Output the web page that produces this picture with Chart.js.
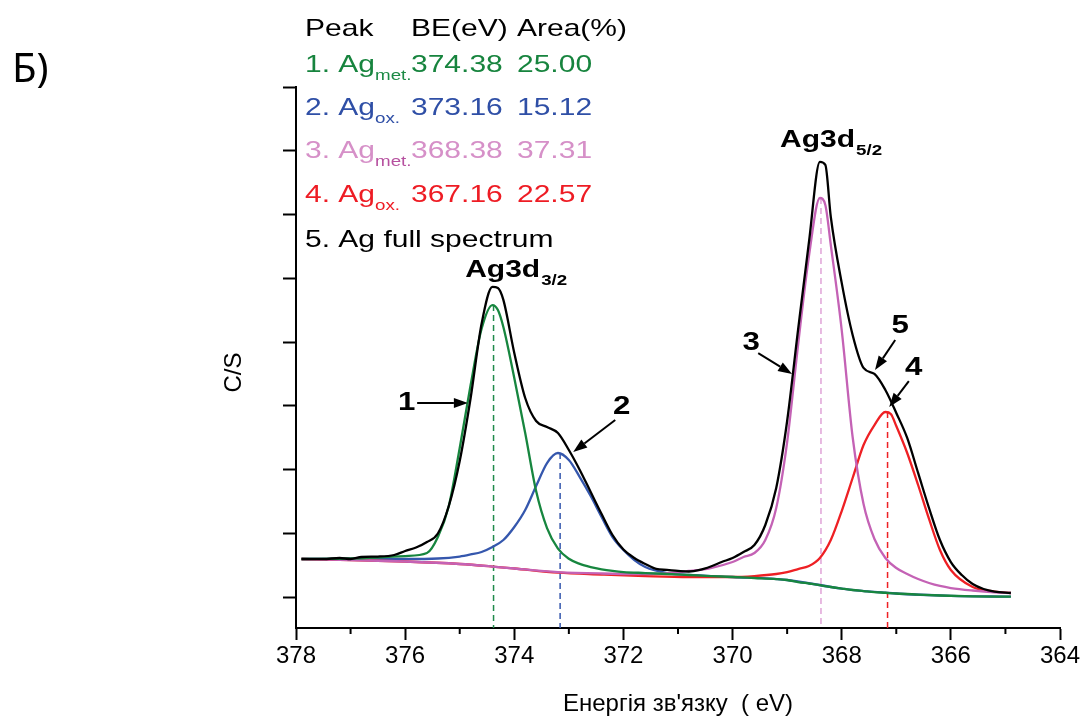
<!DOCTYPE html>
<html lang="uk">
<head>
  <meta charset="UTF-8">
  <title>Ag3d XPS spectrum</title>
  <script src="https://cdn.jsdelivr.net/npm/chart.js"></script>
  <style>
    html, body { margin: 0; padding: 0; background: #fff; }
    canvas { display: block; }
  </style>
</head>
<body>
  <canvas id="xpsChart" width="1083" height="721"></canvas>

  <script>
    // --- Fit results (table at the top of the plot) ---
    const peakLabels = ['1. Ag', '2. Ag', '3. Ag', '4. Ag'];
    const peakStates = ['met.', 'ox.', 'met.', 'ox.'];
    const peakBE = [374.38, 373.16, 368.38, 367.16];     // eV
    const peakArea = [25.00, 15.12, 37.31, 22.57];       // %

    // --- Measured envelope (5. Ag full spectrum), C/S ---
    const envelopeE = [377.9, 377.5, 377.2, 377.0, 376.8, 376.5, 376.2, 376.0, 375.8, 375.6,
      375.4, 375.2, 375.0, 374.8, 374.6, 374.4, 374.3, 374.2, 374.0, 373.8,
      373.6, 373.4, 373.2, 373.0, 372.8, 372.6, 372.4, 372.2, 372.0, 371.8,
      371.6, 371.4, 371.2, 371.0, 370.8, 370.6, 370.4, 370.2, 370.0, 369.8,
      369.6, 369.4, 369.2, 369.0, 368.8, 368.6, 368.4, 368.3, 368.2, 368.0,
      367.8, 367.6, 367.4, 367.2, 367.0, 366.8, 366.6, 366.4, 366.2, 366.0,
      365.8, 365.6, 365.4, 365.2, 364.9];
    const envelopeY = [596, 596, 612, 596, 628, 635, 659, 722, 777, 863,
      996, 1428, 2134, 3122, 4283, 4864, 4848, 4660, 3828, 3122,
      2761, 2667, 2573, 2306, 1993, 1647, 1302, 973, 745, 612,
      518, 440, 425, 410, 400, 425, 479, 549, 612, 706,
      816, 1130, 1710, 2761, 4189, 5570, 6825, 6778, 5962, 4927,
      4111, 3593, 3499, 3248, 2887, 2495, 1946, 1396, 894, 549,
      345, 204, 126, 86, 63];

    // --- Component 1: Ag metal, 3d3/2 ---
    const comp1E = [377.9, 377.0, 376.5, 376.0, 375.6, 375.4, 375.2, 375.0, 374.8, 374.6,
      374.4, 374.3, 374.2, 374.0, 373.8, 373.6, 373.4, 373.2, 373.0, 372.8,
      372.6, 372.4, 372.2, 372.0, 371.6, 371.2, 370.8, 370.4, 370.0, 369.6,
      369.2, 369.0, 368.8, 368.6, 368.4, 368.2, 368.0, 367.8, 367.6, 367.4,
      367.2, 367.0, 366.6, 366.2, 365.6, 364.9];
    const comp1Y = [596, 604, 620, 643, 690, 941, 1427, 2337, 3325, 4204,
      4580, 4502, 4235, 3435, 2573, 1663, 1082, 760, 600, 520,
      470, 435, 410, 392, 376, 361, 345, 329, 314, 298,
      282, 267, 235, 212, 188, 157, 133, 110, 94, 78,
      67, 55, 39, 24, 11, 5];

    // --- Component 2: Ag oxide, 3d3/2 ---
    const comp2E = [377.9, 377.0, 376.0, 375.4, 375.0, 374.8, 374.6, 374.4, 374.2, 374.0,
      373.8, 373.6, 373.4, 373.2, 373.0, 372.8, 372.6, 372.4, 372.2, 372.0,
      371.8, 371.6, 371.2, 370.8, 370.0, 369.0, 368.0, 367.0, 366.0, 364.9];
    const comp2Y = [596, 596, 596, 604, 635, 667, 706, 784, 894, 1098,
      1365, 1741, 2102, 2259, 2149, 1882, 1584, 1255, 941, 737,
      580, 471, 376, 345, 314, 267, 133, 55, 18, 5];

    // --- Component 3: Ag metal, 3d5/2 ---
    const comp3E = [377.9, 377.0, 376.0, 375.0, 374.4, 374.0, 373.2, 372.4, 371.6, 371.2,
      370.8, 370.4, 370.0, 369.8, 369.6, 369.4, 369.2, 369.0, 368.8, 368.6,
      368.4, 368.3, 368.2, 368.0, 367.8, 367.6, 367.4, 367.2, 367.0, 366.8,
      366.6, 366.4, 366.2, 366.0, 365.6, 365.2, 364.9];
    const comp3Y = [596, 580, 557, 518, 478, 447, 392, 369, 361, 376,
      408, 455, 549, 627, 690, 894, 1396, 2431, 3953, 5349,
      6259, 6149, 5522, 4188, 2510, 1459, 910, 612, 455, 361,
      282, 220, 173, 141, 102, 74, 63];

    // --- Component 4: Ag oxide, 3d5/2 ---
    const comp4E = [377.9, 377.0, 376.0, 375.0, 374.4, 374.0, 373.2, 372.4, 371.6, 370.8,
      370.0, 369.6, 369.2, 369.0, 368.8, 368.6, 368.4, 368.2, 368.0, 367.8,
      367.6, 367.4, 367.2, 367.1, 367.0, 366.8, 366.6, 366.4, 366.2, 366.0,
      365.6, 365.2, 364.9];
    const comp4Y = [596, 580, 557, 518, 478, 447, 381, 353, 329, 314,
      314, 329, 361, 392, 439, 486, 612, 894, 1349, 1867,
      2384, 2698, 2902, 2871, 2682, 2259, 1757, 1224, 737, 424,
      157, 86, 63];

    // --- Axis ticks ---
    const xMajorTicks = [378, 376, 374, 372, 370, 368, 366, 364];
    const xMinorTicks = [377, 375, 373, 371, 369, 367, 365];
    const yTicks = [0, 1000, 2000, 3000, 4000, 5000, 6000, 7000, 8000];

    // ------------------------------------------------------------
    const FONT = "'Liberation Sans', Arial, sans-serif";
    const TEXT_STRETCH = 1.25;   // the annotation text is set a bit wide
    Chart.defaults.font.family = FONT;

    const GREEN = '#17863f';
    const BLUE = '#3557ad';
    const PINK = '#c462b5';
    const RED = '#ee2024';
    const tableColors = ['#17843e', '#2f4fa6', '#d690c8', '#ee1c24'];
    const subColors = ['#1c8a45', '#2f4fa6', '#b6509f', '#ee1c24'];
    const dashColors = ['#1e8a4a', '#3557ad', '#e0a3d8', '#ee2024'];

    const toPoints = (xs, ys) => xs.map((x, i) => ({ x: x, y: ys[i] }));
    const compSeries = [[comp1E, comp1Y], [comp2E, comp2Y], [comp3E, comp3Y], [comp4E, comp4Y]];

    const yMin = -486;
    const yMax = 8000;

    // dashed markers from each component's maximum down to the energy axis
    const markerSets = peakBE.map((be, i) => ({
      data: [{ x: be, y: Math.max(...compSeries[i][1]) }, { x: be, y: yMin }],
      borderColor: dashColors[i],
      borderWidth: 1.5,
      borderDash: [6, 4],
      tension: 0,
      cubicInterpolationMode: 'default'
    }));

    // first dataset is drawn on top
    const datasets = [
      { data: toPoints(envelopeE, envelopeY), borderColor: '#000' },
      { data: toPoints(comp1E, comp1Y), borderColor: GREEN },
      { data: toPoints(comp3E, comp3Y), borderColor: PINK },
      { data: toPoints(comp4E, comp4Y), borderColor: RED },
      { data: toPoints(comp2E, comp2Y), borderColor: BLUE },
      ...markerSets
    ];

    // text helper: widened horizontally, returns drawn width
    function wideText(ctx, text, x, y, font, color, align) {
      ctx.save();
      ctx.font = font;
      ctx.fillStyle = color;
      ctx.textAlign = align || 'left';
      ctx.textBaseline = align === 'center' ? 'middle' : 'alphabetic';
      ctx.translate(x, y);
      ctx.scale(TEXT_STRETCH, 1);
      ctx.fillText(text, 0, 0);
      const w = ctx.measureText(text).width * TEXT_STRETCH;
      ctx.restore();
      return w;
    }

    function arrow(ctx, x1, y1, x2, y2) {
      const a = Math.atan2(y2 - y1, x2 - x1);
      const head = 14, half = 5;
      const bx = x2 - head * Math.cos(a), by = y2 - head * Math.sin(a);
      ctx.beginPath();
      ctx.moveTo(x1, y1);
      ctx.lineTo(bx, by);
      ctx.stroke();
      ctx.beginPath();
      ctx.moveTo(x2, y2);
      ctx.lineTo(bx + half * Math.sin(a), by - half * Math.cos(a));
      ctx.lineTo(bx - half * Math.sin(a), by + half * Math.cos(a));
      ctx.closePath();
      ctx.fill();
    }

    // numbered callouts, anchored in (eV, C/S)
    const callouts = [
      { text: '1', at: [375.97, 3059], from: [375.78, 3043], to: [374.85, 3043] },
      { text: '2', at: [372.03, 2996], from: [372.15, 2776], to: [372.92, 2275] },
      { text: '3', at: [369.66, 4000], from: [369.53, 3827], to: [368.91, 3498] },
      { text: '4', at: [366.68, 3608], from: [366.77, 3388], to: [367.13, 2980] },
      { text: '5', at: [366.93, 4267], from: [367.02, 4031], to: [367.39, 3561] }
    ];
    const doubletLabels = [
      { main: 'Ag3d', sub: '3/2', at: [374.90, 5020] },
      { main: 'Ag3d', sub: '5/2', at: [369.13, 7059] }
    ];

    const xpsExtras = {
      id: 'xpsExtras',
      afterDraw(chart) {
        const ctx = chart.ctx;
        const xs = chart.scales.x, ys = chart.scales.y;
        const area = chart.chartArea;
        const px = e => xs.getPixelForValue(e);
        const py = v => ys.getPixelForValue(v);

        ctx.save();
        ctx.strokeStyle = '#000';
        ctx.fillStyle = '#000';
        ctx.lineWidth = 2;

        // minor ticks on the energy axis
        xMinorTicks.forEach(e => {
          ctx.beginPath();
          ctx.moveTo(px(e), area.bottom);
          ctx.lineTo(px(e), area.bottom + 6);
          ctx.stroke();
        });

        // y axis title
        ctx.save();
        ctx.translate(area.left - 62, (area.top + area.bottom) / 2 + 15);
        ctx.rotate(-Math.PI / 2);
        ctx.font = '24px ' + FONT;
        ctx.textAlign = 'center';
        ctx.textBaseline = 'middle';
        ctx.fillText('C/S', 0, 0);
        ctx.restore();

        // panel letter
        ctx.font = "40px 'Noto Sans', sans-serif";
        ctx.textAlign = 'left';
        ctx.textBaseline = 'alphabetic';
        ctx.fillText('Б)', 12, 82);

        // results table
        const rowY = [36, 72, 115, 158, 202, 247];
        const colX = [305, 411, 517];
        const big = '24px ' + FONT, small = '15px ' + FONT;
        wideText(ctx, 'Peak', colX[0], rowY[0], big, '#000');
        wideText(ctx, 'BE(eV)', colX[1], rowY[0], big, '#000');
        wideText(ctx, 'Area(%)', colX[2], rowY[0], big, '#000');
        peakLabels.forEach((lbl, i) => {
          const y = rowY[i + 1];
          const w = wideText(ctx, lbl, colX[0], y, big, tableColors[i]);
          wideText(ctx, peakStates[i], colX[0] + w, y + 8, small, subColors[i]);
          wideText(ctx, peakBE[i].toFixed(2), colX[1], y, big, tableColors[i]);
          wideText(ctx, peakArea[i].toFixed(2), colX[2], y, big, tableColors[i]);
        });
        wideText(ctx, '5. Ag full spectrum', colX[0], rowY[5], big, '#000');

        // doublet labels
        doubletLabels.forEach(d => {
          const x = px(d.at[0]), y = py(d.at[1]);
          const w = wideText(ctx, d.main, x, y, 'bold 24px ' + FONT, '#000');
          wideText(ctx, d.sub, x + w + 1, y + 8, 'bold 15px ' + FONT, '#000');
        });

        // numbered arrows
        callouts.forEach(c => {
          wideText(ctx, c.text, px(c.at[0]), py(c.at[1]) + 1, 'bold 25px ' + FONT, '#000', 'center');
          arrow(ctx, px(c.from[0]), py(c.from[1]), px(c.to[0]), py(c.to[1]));
        });

        ctx.restore();
      }
    };

    new Chart(document.getElementById('xpsChart').getContext('2d'), {
      type: 'line',
      data: { datasets: datasets },
      options: {
        responsive: false,
        animation: false,
        layout: { padding: { top: 87, right: 23, bottom: 0, left: 0 } },
        plugins: {
          legend: { display: false },
          tooltip: { enabled: false }
        },
        elements: {
          point: { radius: 0 },
          line: { borderWidth: 2.3, cubicInterpolationMode: 'monotone', fill: false }
        },
        scales: {
          x: {
            type: 'linear',
            reverse: true,
            min: 364,
            max: 378,
            afterBuildTicks: axis => { axis.ticks = xMajorTicks.map(v => ({ value: v })); },
            afterFit: axis => { axis.height = 93; },
            border: { display: true, color: '#000', width: 2 },
            grid: { drawOnChartArea: false, drawTicks: true, tickLength: 12, tickWidth: 2, tickColor: '#000' },
            ticks: { color: '#000', font: { size: 24 }, padding: 2, maxRotation: 0, autoSkip: false },
            title: {
              display: true,
              text: "Енергія зв'язку  ( eV)",
              color: '#000',
              font: { size: 24 },
              padding: { top: 0, bottom: 2 }
            }
          },
          y: {
            type: 'linear',
            min: yMin,
            max: yMax,
            afterBuildTicks: axis => { axis.ticks = yTicks.map(v => ({ value: v })); },
            afterFit: axis => { axis.width = 296; },
            border: { display: true, color: '#000', width: 2 },
            grid: { drawOnChartArea: false, drawTicks: true, tickLength: 13, tickWidth: 2, tickColor: '#000' },
            ticks: { display: false }
          }
        }
      },
      plugins: [xpsExtras]
    });
  </script>
</body>
</html>
